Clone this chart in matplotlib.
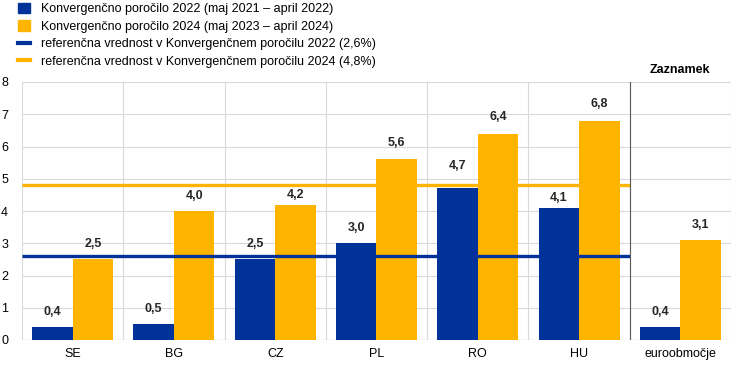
import matplotlib.pyplot as plt
from matplotlib.lines import Line2D
from matplotlib.patches import Patch
import numpy as np

plt.rcParams['font.family'] = ['Liberation Sans', 'DejaVu Sans']

categories = ['SE', 'BG', 'CZ', 'PL', 'RO', 'HU', 'euroobmočje']
cr2022 = [0.4, 0.5, 2.5, 3.0, 4.7, 4.1, 0.4]
cr2024 = [2.5, 4.0, 4.2, 5.6, 6.4, 6.8, 3.1]
ref2022 = 2.6
ref2024 = 4.8
labels = ['Konvergenčno poročilo 2022 (maj 2021 – april 2022)',
          'Konvergenčno poročilo 2024 (maj 2023 – april 2024)',
          'referenčna vrednost v Konvergenčnem poročilu 2022 (2,6%)',
          'referenčna vrednost v Konvergenčnem poročilu 2024 (4,8%)']

blue = '#003299'
yellow = '#FFB400'
grid = '#d9d9d9'

# label offsets above bar tops (points), nudged where labels would hit the ref lines
off2022 = [11, 11, 11, 11, 16, 7, 11]
off2024 = [11, 11, 7, 12, 12, 12, 11]

fig = plt.figure(figsize=(7.42, 3.68), dpi=100)
ax = fig.add_axes([22 / 742, 1 - 340 / 368, (731 - 22) / 742, (340 - 82) / 368])

x = np.arange(len(categories))
w = 0.4
ax.bar(x - w / 2, cr2022, w, color=blue, zorder=3)
ax.bar(x + w / 2, cr2024, w, color=yellow, zorder=3)

for xs, vals, offs in [(x - w / 2, cr2022, off2022), (x + w / 2, cr2024, off2024)]:
    for xi, v, o in zip(xs, vals, offs):
        ax.annotate(f'{v:.1f}'.replace('.', ','), (xi, v), xytext=(0, o), textcoords='offset points',
                    ha='center', va='center', fontsize=9, fontweight='bold', color='#262626')

n = len(categories) - 1
ax.plot([-0.5, n - 0.5], [ref2022, ref2022], color=blue, lw=2.4, zorder=4, solid_capstyle='butt')
ax.plot([-0.5, n - 0.5], [ref2024, ref2024], color=yellow, lw=2.4, zorder=4, solid_capstyle='butt')

ax.set_xlim(-0.5, len(categories) - 0.5)
ax.set_ylim(0, 8)
ax.set_yticks(range(0, 9))
ax.set_xticks(x)
ax.set_xticklabels(categories)
ax.tick_params(length=0, labelsize=9, colors='#000000')
ax.tick_params(axis='y', pad=10)
ax.tick_params(axis='x', pad=6)
for y in range(1, 9):
    ax.axhline(y, color=grid, lw=0.8, zorder=1)
for b in np.arange(-0.5, len(categories), 1.0):
    ax.axvline(b, color=grid, lw=0.8, zorder=1)
ax.axvline(n - 0.5, color='#595959', lw=0.8, zorder=5)
for s in ax.spines.values():
    s.set_visible(False)
ax.axhline(0, color=grid, lw=1.0, zorder=2)

ax.text(n, 8.2, 'Zaznamek', ha='center', va='bottom', fontsize=9, fontweight='bold')

handles = [Patch(color=blue), Patch(color=yellow),
           Line2D([], [], color=blue, lw=3), Line2D([], [], color=yellow, lw=3)]
fig.legend(handles, labels, loc='upper left', bbox_to_anchor=(0.018, 1.006), frameon=False,
           fontsize=9, handlelength=0.9, handleheight=0.9, handletextpad=0.9, labelspacing=0.4,
           borderaxespad=0)

fig.savefig('out.png', dpi=100)
